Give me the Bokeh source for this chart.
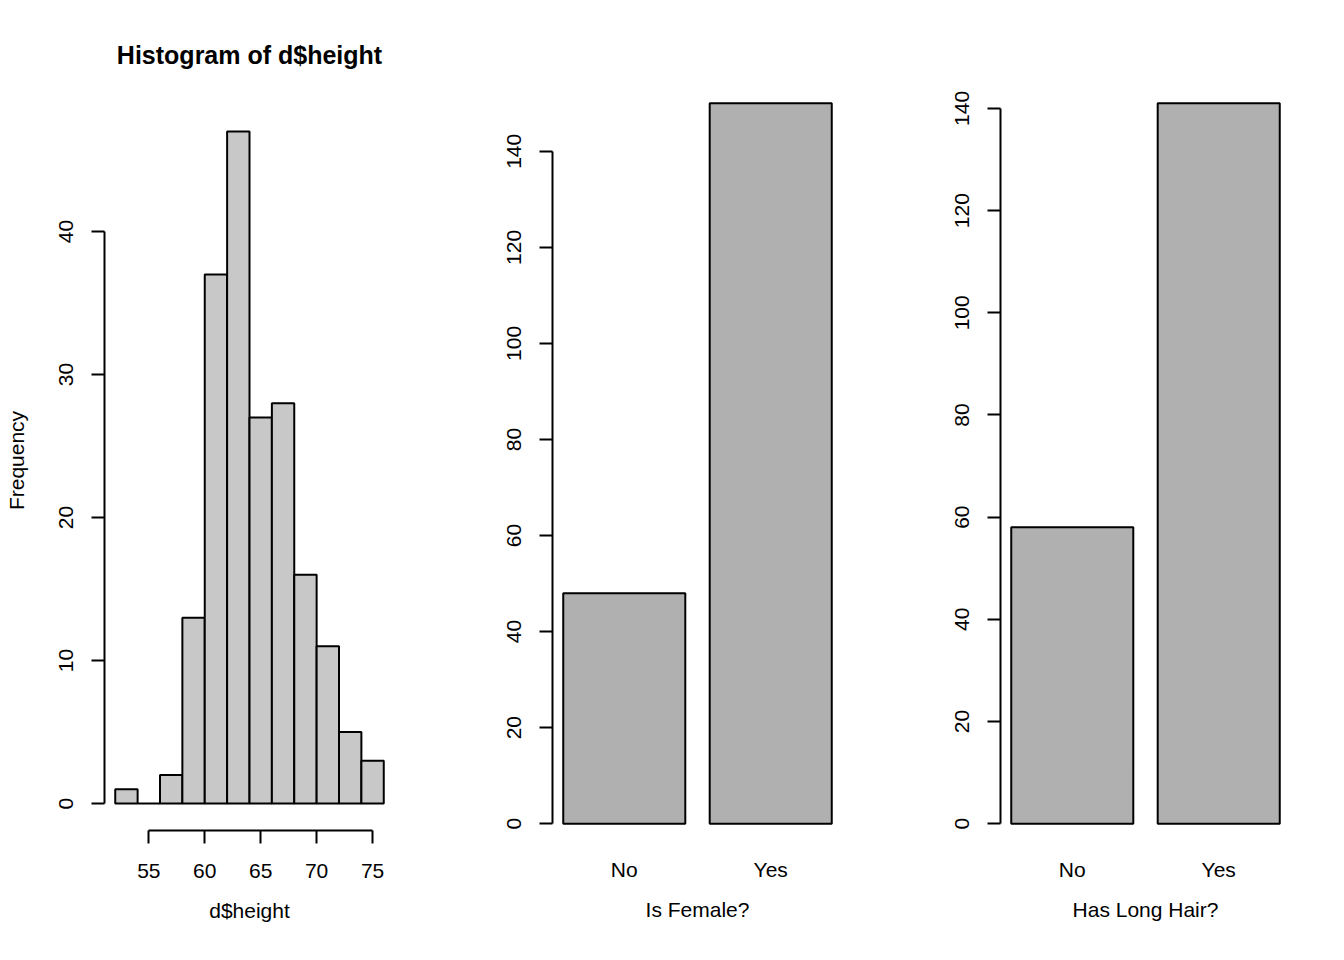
from bokeh.plotting import figure
from bokeh.layouts import row
from bokeh.models import Range1d, FactorRange, FixedTicker
from bokeh.embed import file_html
from bokeh.resources import INLINE

# ---------------- data ----------------
height_bin_left = [52, 54, 56, 58, 60, 62, 64, 66, 68, 70, 72, 74]
height_bin_right = [54, 56, 58, 60, 62, 64, 66, 68, 70, 72, 74, 76]
height_counts = [1, 0, 2, 13, 37, 47, 27, 28, 16, 11, 5, 3]
hist_x_ticks = [55, 60, 65, 70, 75]
hist_y_ticks = [0, 10, 20, 30, 40]

answer_categories = ["No", "Yes"]
female_counts = [48, 150]
longhair_counts = [58, 141]
bar_y_ticks = [0, 20, 40, 60, 80, 100, 120, 140]

FONT = "Liberation Sans"
TICK_FS = "21px"
HIST_FILL = "#C8C8C8"
BAR_FILL = "#B0B0B0"

# layout geometry (pixels)
FIG_H = 952
FRAME_TOP = 90
FRAME_BOT = 830


def style_common(p):
    p.outline_line_color = None
    p.xgrid.grid_line_color = None
    p.ygrid.grid_line_color = None
    p.background_fill_color = "white"
    p.border_fill_color = "white"
    for ax in p.axis:
        ax.axis_line_width = 2
        ax.major_tick_line_width = 2
        ax.major_tick_in = 0
        ax.major_tick_out = 13
        ax.minor_tick_line_color = None
        ax.major_label_text_font = FONT
        ax.major_label_text_font_size = TICK_FS
        ax.major_label_text_color = "black"
        ax.axis_label_text_font = FONT
        ax.axis_label_text_font_size = TICK_FS
        ax.axis_label_text_font_style = "normal"
        ax.axis_label_text_color = "black"
        ax.axis_line_color = "black"
        ax.major_tick_line_color = "black"


def y_range_for(vals, region_top, region_bot):
    """R-style 4% padded range placed in a pixel region, re-expressed for the frame."""
    m = max(vals)
    lo, hi = -0.04 * m, 1.04 * m
    scale = (region_bot - region_top) / (hi - lo)
    return Range1d(lo + (region_bot - FRAME_BOT) / scale,
                   lo + (region_bot - FRAME_TOP) / scale)


# ---------------- histogram ----------------
xlo, xhi = min(height_bin_left), max(height_bin_right)
xspan = xhi - xlo
p1 = figure(width=448, height=FIG_H, output_backend="svg", toolbar_location=None,
            x_range=Range1d(xlo - 0.04 * xspan, xhi + 0.04 * xspan),
            y_range=y_range_for(height_counts, 104, 830),
            min_border_left=104, min_border_right=54,
            min_border_top=FRAME_TOP, min_border_bottom=FIG_H - FRAME_BOT,
            title="Histogram of d$height")
p1.quad(left=height_bin_left, right=height_bin_right, bottom=0, top=height_counts,
        fill_color=HIST_FILL, line_color="black", line_width=2)
style_common(p1)
p1.title.align = "center"
p1.title.text_font = FONT
p1.title.text_font_size = "25px"
p1.title.text_font_style = "bold"
p1.title.text_color = "black"
p1.title.standoff = 44
p1.xaxis.ticker = FixedTicker(ticks=hist_x_ticks)
p1.xaxis.bounds = (min(hist_x_ticks), max(hist_x_ticks))
p1.xaxis.axis_label = "d$height"
p1.xaxis.major_label_standoff = 20
p1.xaxis.axis_label_standoff = 18
p1.yaxis.ticker = FixedTicker(ticks=hist_y_ticks)
p1.yaxis.bounds = (min(hist_y_ticks), max(hist_y_ticks))
p1.yaxis.axis_label = "Frequency"
p1.yaxis.major_label_orientation = "vertical"
p1.yaxis.major_label_standoff = 18
p1.yaxis.axis_label_standoff = 29


# ---------------- bar charts ----------------
def bar_panel(counts, label, width, right_border):
    p = figure(width=width, height=FIG_H, output_backend="svg", toolbar_location=None,
               x_range=FactorRange(factors=answer_categories, range_padding=-0.01),
               y_range=y_range_for(counts, 74, 852),
               min_border_left=104, min_border_right=right_border,
               min_border_top=FRAME_TOP, min_border_bottom=FIG_H - FRAME_BOT)
    p.vbar(x=answer_categories, top=counts, bottom=0, width=1 / 1.2,
           fill_color=BAR_FILL, line_color="black", line_width=2)
    style_common(p)
    p.xaxis.axis_line_color = None
    p.xaxis.major_tick_line_color = None
    p.xaxis.major_tick_out = 0
    p.xaxis.major_label_standoff = 27
    p.xaxis.axis_label = label
    p.xaxis.axis_label_standoff = 14
    p.yaxis.ticker = FixedTicker(ticks=bar_y_ticks)
    p.yaxis.bounds = (min(bar_y_ticks), max(bar_y_ticks))
    p.yaxis.major_label_orientation = "vertical"
    p.yaxis.major_label_standoff = 18
    return p


p2 = bar_panel(female_counts, "Is Female?", 448, 54)
p3 = bar_panel(longhair_counts, "Has Long Hair?", 440, 46)

layout = row(p1, p2, p3)
open("out.html", "w").write(file_html(layout, INLINE))
